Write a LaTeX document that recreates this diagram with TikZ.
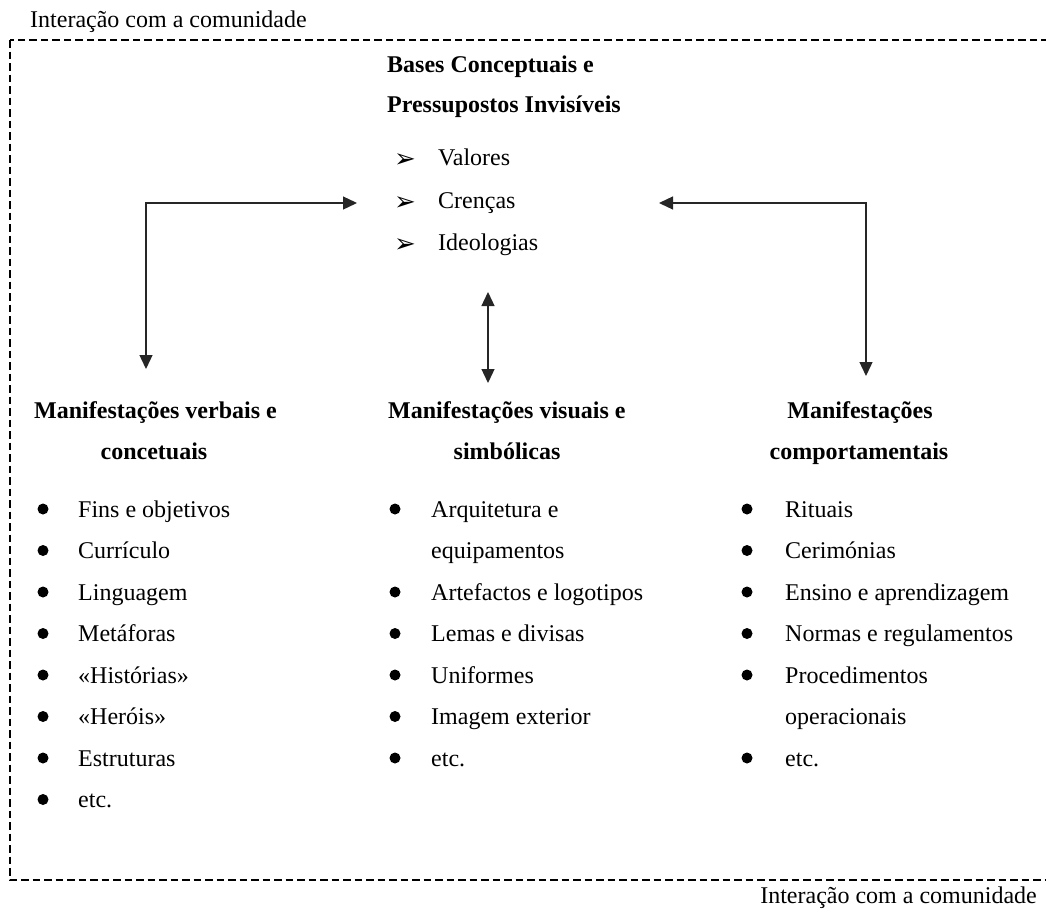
\documentclass[tikz,border=0pt]{standalone}
\usepackage{fontspec}
\setmainfont{Liberation Serif}
\newfontfamily\djv{DejaVu Sans}
\usetikzlibrary{arrows.meta}
\begin{document}
\begin{tikzpicture}[x=1pt,y=-1pt,
  txt/.style={anchor=base west, inner sep=0pt, font=\fontsize{24}{28}\selectfont},
  ctxt/.style={anchor=base, inner sep=0pt, font=\fontsize{24}{28}\selectfont\bfseries},
  btxt/.style={anchor=base west, inner sep=0pt, font=\fontsize{24}{28}\selectfont\bfseries},
  rtxt/.style={anchor=base east, inner sep=0pt, font=\fontsize{24}{28}\selectfont},
  arrb/.style={anchor=base, inner sep=0pt, font=\djv\fontsize{26}{30}\selectfont},
  dot/.style={circle, fill=black, inner sep=0pt, minimum size=11pt},
  frame/.style={line width=2.4pt, dash pattern=on 7.5pt off 4pt},
  conn/.style={line width=1.3pt, draw=black!85, {Triangle[length=14pt,width=13pt]}-{Triangle[length=14pt,width=13pt]}}
]
\useasboundingbox (0,0) rectangle (1046,913);
\clip (0,0) rectangle (1046,913);

% frame and community labels
\draw[frame] (10,40) rectangle (1052,880);
\node[txt] (ctop) at (30,27) {Interação com a comunidade};
\node[rtxt] (cbot) at (1037,903) {Interação com a comunidade};

% central block
\node[btxt] (b1) at (387,72) {Bases Conceptuais e};
\node[btxt] (b2) at (387,112) {Pressupostos Invisíveis};
\node[arrb] (a1) at (405,167) {➢};
\node[arrb] (a2) at (405,210) {➢};
\node[arrb] (a3) at (405,252) {➢};
\node[txt] (v1) at (438,165) {Valores};
\node[txt] (v2) at (438,208) {Crenças};
\node[txt] (v3) at (438,250) {Ideologias};

% headings
\node[btxt] (h1a) at (34,418) {Manifestações verbais e};
\node[ctxt] (h1b) at (154,459) {concetuais};
\node[btxt] (h2a) at (388,418) {Manifestações visuais e};
\node[ctxt] (h2b) at (507,459) {simbólicas};
\node[ctxt] (h3a) at (860,418) {Manifestações};
\node[ctxt] (h3b) at (859,459) {comportamentais};

% connectors
\coordinate (lA) at (357,203);
\coordinate (lB) at (146,369);
\coordinate (rA) at (659,203);
\coordinate (rB) at (866,376);
\coordinate (mA) at (488,292);
\coordinate (mB) at (488,383);
\draw[conn] (lA) -| (lB);
\draw[conn] (rA) -| (rB);
\draw[conn] (mA) -- (mB);

% left list
\foreach \t [count=\i from 0] in {Fins e objetivos, Currículo, Linguagem, Metáforas, «Histórias», «Heróis», Estruturas, etc.}{
  \node[txt] (l\i) at (78,517+41.5*\i) {\t};
  \node[dot] (ld\i) at (43,509+41.5*\i) {};
}
% middle list
\foreach \t/\r [count=\i from 0] in {Arquitetura e/0, Artefactos e logotipos/2, Lemas e divisas/3, Uniformes/4, Imagem exterior/5, etc./6}{
  \node[txt] (m\i) at (431,517+41.5*\r) {\t};
  \node[dot] (md\i) at (395,509+41.5*\r) {};
}
\node[txt] (mx) at (431,517+41.5) {equipamentos};
% right list
\foreach \t/\r [count=\i from 0] in {Rituais/0, Cerimónias/1, Ensino e aprendizagem/2, Normas e regulamentos/3, Procedimentos/4, etc./6}{
  \node[txt] (r\i) at (785,517+41.5*\r) {\t};
  \node[dot] (rd\i) at (747,509+41.5*\r) {};
}
\node[txt] (rx) at (785,517+41.5*5) {operacionais};
\end{tikzpicture}
\end{document}
